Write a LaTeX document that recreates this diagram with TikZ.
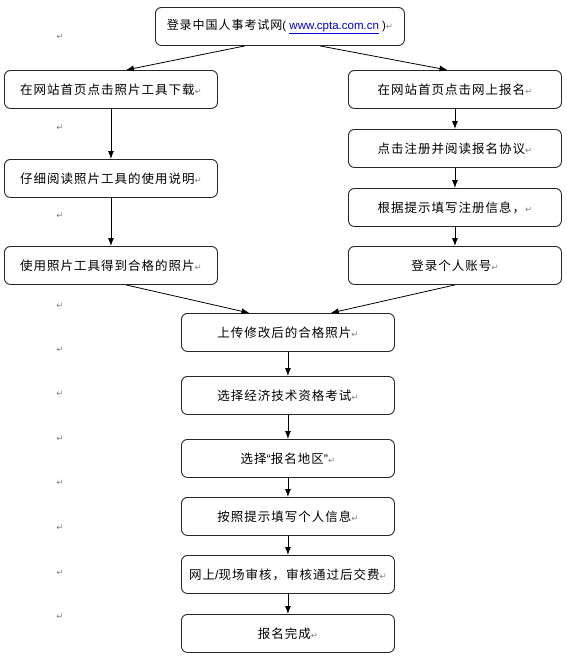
\documentclass[tikz,border=0pt]{standalone}
\usepackage{fontspec}
\usetikzlibrary{arrows.meta,calc}
\newfontfamily\cjk[LetterSpace=8]{Noto Sans CJK SC}
\newfontfamily\lat{Liberation Sans}
\newfontfamily\symf{DejaVu Sans}
\definecolor{linkblue}{RGB}{0,0,204}
\newcommand{\ret}{{\symf\fontsize{8.5}{8.5}\selectfont\textcolor{black!50}{↵}}}
\begin{document}
\begin{tikzpicture}[x=1pt,y=-1pt,
  box/.style={draw=black!85, line width=0.9pt, rounded corners=6pt, anchor=north west,
    inner sep=0pt, minimum width=213pt, minimum height=38pt,
    font=\cjk\fontsize{12.5}{14}\selectfont},
  arr/.style={-{Latex[length=8pt,width=6pt]}, line width=0.8pt, black},
  retmark/.style={inner sep=0pt}
]
\useasboundingbox (0,0) rectangle (566,659);

% top box
\node[box, minimum width=249pt, minimum height=38pt, font=\cjk\fontsize{12}{14}\selectfont] (top) at (155,7)
  {登录中国人事考试网{\lat\fontsize{11.5}{14}\selectfont(\ \textcolor{linkblue}{\underline{www.cpta.com.cn}}\ )}\ret};

% left column
\node[box] (l1) at (4,70) {在网站首页点击照片工具下载\ret};
\node[box] (l2) at (4,159) {仔细阅读照片工具的使用说明\ret};
\node[box] (l3) at (4,246) {使用照片工具得到合格的照片\ret};

% right column
\node[box] (r1) at (348,70) {在网站首页点击网上报名\ret};
\node[box] (r2) at (348,129) {点击注册并阅读报名协议\ret};
\node[box] (r3) at (348,188) {根据提示填写注册信息，\ret};
\node[box] (r4) at (348,246) {登录个人账号\ret};

% center column
\node[box] (c1) at (181,313) {上传修改后的合格照片\ret};
\node[box] (c2) at (181,376) {选择经济技术资格考试\ret};
\node[box] (c3) at (181,439) {选择{\lat“}报名地区{\lat”}\ret};
\node[box] (c4) at (181,497) {按照提示填写个人信息\ret};
\node[box] (c5) at (181,555) {网上{\lat/}现场审核，审核通过后交费\ret};
\node[box] (c6) at (181,614) {报名完成\ret};

% connectors
\draw[arr] ($(top.south west)!0.36!(top.south east)$) -- ($(l1.north west)!0.57!(l1.north east)$);
\draw[arr] ($(top.south west)!0.66!(top.south east)$) -- ($(r1.north west)!0.465!(r1.north east)$);
\draw[arr] (l1.south) -- (l2.north);
\draw[arr] (l2.south) -- (l3.north);
\draw[arr] (r1.south) -- (r2.north);
\draw[arr] (r2.south) -- (r3.north);
\draw[arr] (r3.south) -- (r4.north);
\draw[arr] ($(l3.south west)!0.57!(l3.south east)$) -- ($(c1.north west)!0.32!(c1.north east)$);
\draw[arr] ($(r4.south west)!0.5!(r4.south east)$) -- ($(c1.north west)!0.70!(c1.north east)$);
\draw[arr] (c1.south) -- (c2.north);
\draw[arr] (c2.south) -- (c3.north);
\draw[arr] (c3.south) -- (c4.north);
\draw[arr] (c4.south) -- (c5.north);
\draw[arr] (c5.south) -- (c6.north);

% stray paragraph marks
\foreach \yy [count=\i] in {37,128,216,306,350,394,439,483,528,573,617}
  \node[retmark] (p\i) at (60,\yy) {\ret};
\end{tikzpicture}
\end{document}
